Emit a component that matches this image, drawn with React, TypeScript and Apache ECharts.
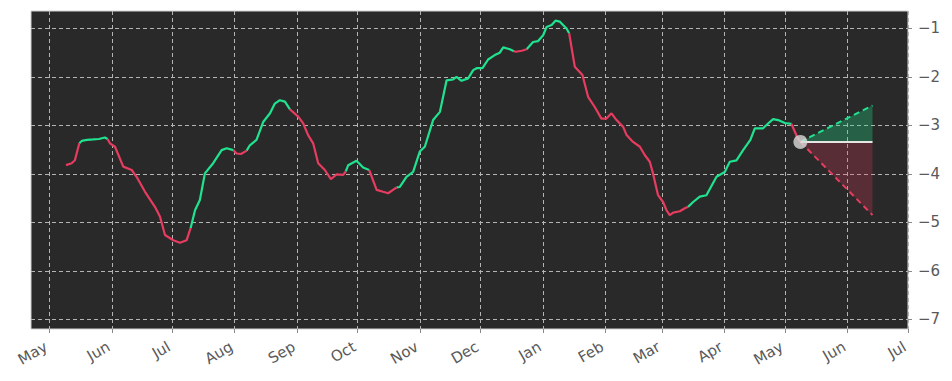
import React, { useEffect, useRef } from "react";
import * as echarts from "echarts";

const START = Date.UTC(2022, 4, 1);
const DAY = 86400000;

// days since 1 May (year 1)
const dayOffsets = [
  8.3, 11.1, 12.7, 14.9, 16.1, 18.7, 21.8, 24.6, 27.6, 28.9,
  30.1, 32.6, 36.7, 40.9, 43.3, 47.5, 52.4, 54.9, 57.4, 61.5,
  64.8, 68.1, 70.1, 72.3, 74.7, 77.2, 81.3, 85.5, 88.0, 91.3,
  92.9, 95.1, 97.9, 99.5, 102.8, 106.1, 109.5, 111.9, 114.4, 116.9,
  119.4, 123.5, 126.0, 128.4, 130.9, 133.4, 136.7, 139.7, 142.5, 145.8,
  147.1, 148.3, 152.4, 155.7, 158.7, 162.4, 165.6, 168.1, 172.3, 173.9,
  177.2, 180.5, 183.8, 186.3, 190.4, 193.8, 197.1, 200.4, 202.0, 204.5,
  207.8, 210.3, 212.0, 214.9, 217.7, 221.0, 223.5, 225.2, 228.5, 230.5,
  231.5, 234.4, 236.8, 240.0, 242.5, 245.0, 246.7, 249.2, 251.1, 253.3,
  256.6, 257.9, 260.7, 264.5, 267.3, 270.6, 273.9, 276.4, 278.9, 281.4,
  284.7, 286.4, 289.6, 293.0, 295.4, 297.9, 299.5, 302.0, 304.5, 306.2,
  307.8, 309.5, 312.8, 315.3, 316.9, 319.4, 322.7, 326.0, 331.0, 335.1,
  337.6, 340.9, 344.2, 347.8, 350.0, 354.1, 356.6, 359.1, 361.6, 364.9,
  368.2, 371.0, 372.6,
];

const values = [
  -3.82, -3.78, -3.72, -3.37, -3.32, -3.30, -3.29, -3.28, -3.25, -3.28,
  -3.37, -3.44, -3.85, -3.92, -4.06, -4.37, -4.68, -4.88, -5.26, -5.37,
  -5.42, -5.37, -5.12, -4.75, -4.54, -3.99, -3.78, -3.51, -3.47, -3.51,
  -3.58, -3.59, -3.52, -3.41, -3.30, -2.93, -2.75, -2.55, -2.48, -2.51,
  -2.67, -2.82, -2.96, -3.20, -3.37, -3.78, -3.92, -4.11, -4.01, -4.02,
  -3.95, -3.82, -3.73, -3.87, -3.92, -4.33, -4.37, -4.40, -4.28, -4.27,
  -4.06, -3.96, -3.54, -3.44, -2.89, -2.72, -2.07, -2.05, -2.00, -2.08,
  -2.03, -1.86, -1.82, -1.82, -1.64, -1.55, -1.50, -1.39, -1.43, -1.47,
  -1.48, -1.46, -1.43, -1.28, -1.26, -1.14, -0.97, -0.93, -0.84, -0.86,
  -1.00, -1.10, -1.79, -1.96, -2.41, -2.62, -2.86, -2.86, -2.75, -2.89,
  -3.03, -3.20, -3.34, -3.44, -3.61, -3.75, -3.99, -4.44, -4.58, -4.75,
  -4.85, -4.80, -4.77, -4.71, -4.68, -4.58, -4.47, -4.44, -4.06, -3.96,
  -3.75, -3.72, -3.51, -3.30, -3.06, -3.06, -2.96, -2.87, -2.89, -2.95,
  -2.97, -3.24, -3.34,
];

// colour of the segment ending at each point: U = up (green), D = down (red)
const trend = (
  "DDDDUUUUUU" + "DDDDDDDDDD" + "DDDUUUUUUU" + "DDDUUUUUUU" +
  "UDDDDDDDDD" + "DUUUUDDDDU" + "UUUUUUUUUU" + "UUUUUUUUUU" +
  "DDDUUUUUUU" + "UUDDDDDDDD" + "DDDDDDDDDD" + "DDDDDUUUUU" +
  "UUUUUUUUUU" + "UDD"
).split("");

const forecastDays = [372.6, 408.4];
const forecastMid = [-3.34, -3.34];
const forecastUpper = [-3.34, -2.59];
const forecastLower = [-3.34, -4.85];

const monthNames = ["Jan", "Feb", "Mar", "Apr", "May", "Jun", "Jul", "Aug", "Sep", "Oct", "Nov", "Dec"];
const monthTicks = Array.from({ length: 15 }, (_, i) => Date.UTC(2022, 4 + i, 1));
const yTicks = [-7, -6, -5, -4, -3, -2, -1];

const GREEN = "#20e38f";
const RED = "#e63c5f";
const FONT = "DejaVu Sans";

const t = (d: number) => START + d * DAY;

export default function App() {
  const ref = useRef<HTMLDivElement>(null);
  useEffect(() => {
    if (!ref.current) return;
    const chart = echarts.init(ref.current, undefined, { renderer: "svg" });
    const n = values.length;
    const greenData: any[] = [];
    const redData: any[] = [];
    for (let i = 0; i < n; i++) {
      const inG = (trend[i] === "U" && i > 0) || (i + 1 < n && trend[i + 1] === "U");
      const inR = (trend[i] === "D" && i > 0) || (i + 1 < n && trend[i + 1] === "D");
      greenData.push([t(dayOffsets[i]), inG ? values[i] : null]);
      redData.push([t(dayOffsets[i]), inR ? values[i] : null]);
    }
    const fc = (arr: number[]) => forecastDays.map((d, i) => [t(d), arr[i]]);

    chart.setOption({
      animation: false,
      grid: {
        left: 31,
        right: 44,
        top: 11,
        bottom: 52,
        show: true,
        backgroundColor: "#292929",
        borderColor: "#d0d0d0",
        borderWidth: 1,
      },
      xAxis: {
        type: "value",
        min: t(-9.07),
        max: Date.UTC(2023, 6, 1),
        axisLine: { show: false },
        axisTick: { show: true, customValues: monthTicks, length: 4, lineStyle: { color: "#888" } },
        axisLabel: {
          customValues: monthTicks,
          rotate: 30,
          margin: 6,
          verticalAlign: "top",
          padding: [0, 8, 0, 0],
          color: "#595959",
          fontFamily: FONT,
          fontSize: 15,
          formatter: (v: number) => monthNames[new Date(v).getUTCMonth()],
        },
        splitLine: { show: true, lineStyle: { color: "#b4b4b4", type: [4, 3], width: 1 } },
      },
      yAxis: {
        type: "value",
        position: "right",
        min: -7.2,
        max: -0.64,
        axisLine: { show: false },
        axisTick: { show: true, customValues: yTicks, length: 4, lineStyle: { color: "#888" } },
        axisLabel: {
          customValues: yTicks,
          margin: 10,
          color: "#595959",
          fontFamily: FONT,
          fontSize: 15,
          formatter: (v: number) => (v < 0 ? "\u2212" + Math.abs(v) : String(v)),
        },
        splitLine: { show: true, lineStyle: { color: "#b4b4b4", type: [4, 3], width: 1 } },
      },
      series: [
        {
          type: "line",
          data: fc(forecastUpper),
          symbol: "none",
          lineStyle: { color: GREEN, width: 2, type: [6, 4] },
          areaStyle: { origin: -3.34, color: GREEN, opacity: 0.3 },
          z: 2,
        },
        {
          type: "line",
          data: fc(forecastLower),
          symbol: "none",
          lineStyle: { color: RED, width: 2, type: [6, 4] },
          areaStyle: { origin: -3.34, color: RED, opacity: 0.25 },
          z: 2,
        },
        {
          type: "line",
          data: fc(forecastMid),
          symbol: "none",
          lineStyle: { color: "#e6e6e6", width: 2 },
          z: 3,
        },
        {
          type: "line",
          data: greenData,
          symbol: "none",
          connectNulls: false,
          lineStyle: { color: GREEN, width: 2.2 },
          z: 4,
        },
        {
          type: "line",
          data: redData,
          symbol: "none",
          connectNulls: false,
          lineStyle: { color: RED, width: 2.2 },
          z: 4,
        },
        {
          type: "scatter",
          data: [[t(forecastDays[0]), forecastMid[0]]],
          symbolSize: 14,
          itemStyle: { color: "#d9d9d9" },
          z: 5,
        },
      ],
    });
    return () => chart.dispose();
  }, []);
  return (
    <div
      ref={ref}
      style={{ position: "absolute", left: 0, top: 0, width: 952, height: 381, background: "#fff" }}
    />
  );
}
